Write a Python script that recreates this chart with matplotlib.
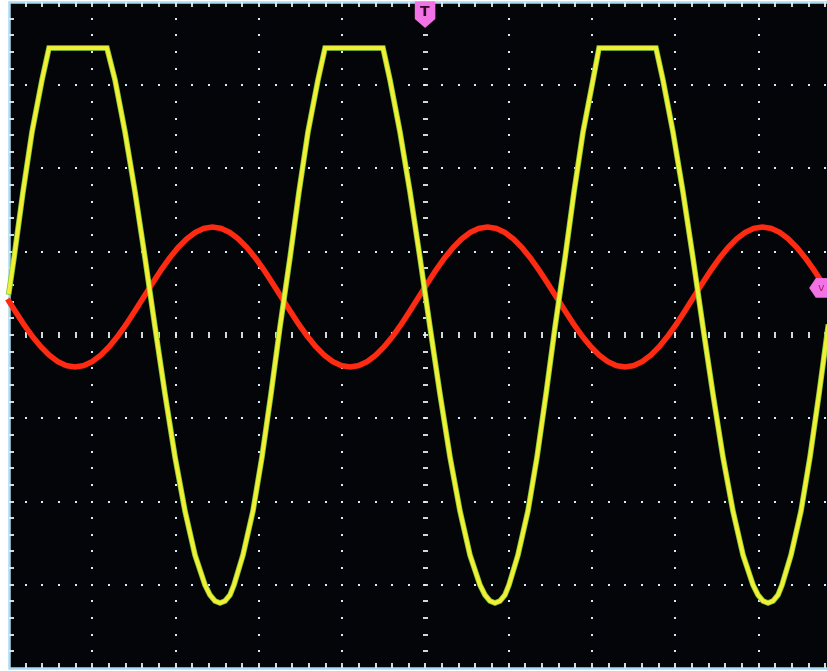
import numpy as np
import matplotlib.pyplot as plt
from matplotlib.patches import Rectangle, Polygon
from matplotlib.collections import LineCollection

# Trace samples in screen divisions (10 div across, 8 div high, 0 = centre line)
# CH1 - yellow, clipped at the top
ch1_t = [0.000, 0.060, 0.168, 0.276, 0.396, 0.480,
         1.176, 1.273, 1.393, 1.513, 1.633, 1.753, 1.873, 1.993, 2.113, 2.233,
         2.353, 2.413, 2.473, 2.533, 2.593, 2.653, 2.701,
         2.809, 2.929, 3.037, 3.145, 3.253, 3.373, 3.481, 3.589, 3.709, 3.794,
         4.490, 4.574, 4.694, 4.814, 4.934, 5.054, 5.174, 5.294, 5.414, 5.534,
         5.654, 5.714, 5.774, 5.834, 5.894, 5.954, 6.002,
         6.110, 6.230, 6.339, 6.447, 6.555, 6.675, 6.783, 6.891, 7.011, 7.083,
         7.767, 7.851, 7.971, 8.091, 8.211, 8.331, 8.451, 8.571, 8.691, 8.812,
         8.932, 8.992, 9.052, 9.112, 9.172, 9.232, 9.280,
         9.388, 9.508, 9.616, 9.724, 9.832, 9.952]
ch1_v = [0.517, 0.925, 1.718, 2.438, 3.063, 3.447,
         3.447, 3.063, 2.438, 1.718, 0.925, 0.096, -0.709, -1.465, -2.114, -2.643,
         -3.003, -3.123, -3.195, -3.219, -3.195, -3.123, -3.003,
         -2.643, -2.114, -1.465, -0.709, 0.096, 0.925, 1.718, 2.438, 3.063, 3.447,
         3.447, 3.063, 2.438, 1.718, 0.925, 0.096, -0.709, -1.465, -2.114, -2.643,
         -3.003, -3.123, -3.195, -3.219, -3.195, -3.123, -3.003,
         -2.643, -2.114, -1.465, -0.709, 0.096, 0.925, 1.718, 2.438, 3.063, 3.447,
         3.447, 3.063, 2.438, 1.718, 0.925, 0.096, -0.709, -1.465, -2.114, -2.643,
         -3.003, -3.123, -3.195, -3.219, -3.195, -3.123, -3.003,
         -2.643, -2.114, -1.465, -0.709, 0.096, 0.925]

# CH2 - red
ch2_t = [0.000, 0.070, 0.173, 0.276, 0.380, 0.483, 0.586, 0.689,
         0.792, 0.895, 0.999, 1.102, 1.205, 1.308, 1.411, 1.514,
         1.618, 1.721, 1.824, 1.927, 2.030, 2.134, 2.237, 2.340,
         2.443, 2.546, 2.649, 2.752, 2.856, 2.959, 3.062, 3.165,
         3.268, 3.372, 3.475, 3.578, 3.681, 3.784, 3.887, 3.991,
         4.094, 4.197, 4.300, 4.403, 4.506, 4.610, 4.713, 4.816,
         4.919, 5.022, 5.125, 5.228, 5.332, 5.435, 5.538, 5.641,
         5.744, 5.848, 5.951, 6.054, 6.157, 6.260, 6.363, 6.467,
         6.570, 6.673, 6.776, 6.879, 6.982, 7.085, 7.189, 7.292,
         7.395, 7.498, 7.601, 7.705, 7.808, 7.911, 8.014, 8.117,
         8.220, 8.323, 8.427, 8.530, 8.633, 8.736, 8.839, 8.942,
         9.046, 9.149, 9.252, 9.355, 9.458, 9.561, 9.664, 9.768,
         9.871]
ch2_v = [0.404, 0.293, 0.134, -0.011, -0.138, -0.242, -0.320, -0.368,
         -0.384, -0.368, -0.320, -0.242, -0.138, -0.011, 0.134, 0.293,
         0.457, 0.620, 0.779, 0.924, 1.051, 1.155, 1.233, 1.281,
         1.297, 1.281, 1.233, 1.155, 1.051, 0.924, 0.779, 0.620,
         0.457, 0.293, 0.134, -0.011, -0.138, -0.242, -0.320, -0.368,
         -0.384, -0.368, -0.320, -0.242, -0.138, -0.011, 0.134, 0.293,
         0.457, 0.620, 0.779, 0.924, 1.051, 1.155, 1.233, 1.281,
         1.297, 1.281, 1.233, 1.155, 1.051, 0.924, 0.779, 0.620,
         0.457, 0.293, 0.134, -0.011, -0.138, -0.242, -0.320, -0.368,
         -0.384, -0.368, -0.320, -0.242, -0.138, -0.011, 0.134, 0.293,
         0.457, 0.620, 0.779, 0.924, 1.051, 1.155, 1.233, 1.281,
         1.297, 1.281, 1.233, 1.155, 1.051, 0.924, 0.779, 0.620,
         0.457]

ndx, ndy = 10, 8
sub = 0.2
tick = 0.065

fig = plt.figure(figsize=(8.28, 6.71), dpi=100)
fig.patch.set_facecolor('white')
ax = fig.add_axes([0, 0, 1, 1])
ax.set_xlim(-0.108, 9.832)
ax.set_ylim(-4.036, 4.024)
ax.axis('off')

# screen area
ax.add_patch(Rectangle((0, -ndy / 2), ndx, ndy, facecolor='#040508',
                       edgecolor='#a9dcf2', lw=1.8, zorder=0))

dot_col = '#d6eaff'
sx = np.arange(1, int(ndx / sub)) * sub
sy = np.arange(1, int(ndy / sub)) * sub - ndy / 2

# dotted graticule
for gx in range(1, ndx):
    if gx == ndx // 2:
        continue
    ax.plot(np.full_like(sy, gx), sy, ls='none', marker='s', ms=1.8,
            mew=0, color=dot_col, zorder=1)
for gy in range(-ndy // 2 + 1, ndy // 2):
    if gy == 0:
        continue
    ax.plot(sx, np.full_like(sx, gy), ls='none', marker='s', ms=1.8,
            mew=0, color=dot_col, zorder=1)

# centre cross and border ticks
segs = []
for x in sx:
    segs.append([(x, -tick / 2), (x, tick / 2)])
    segs.append([(x, ndy / 2), (x, ndy / 2 - tick)])
    segs.append([(x, -ndy / 2), (x, -ndy / 2 + tick)])
for y in sy:
    segs.append([(ndx / 2 - tick / 2, y), (ndx / 2 + tick / 2, y)])
    segs.append([(0, y), (tick, y)])
ax.add_collection(LineCollection(segs, colors='#e4f0f4', linewidths=1.3, zorder=1))

# traces
ax.plot(ch2_t, ch2_v, color='#ff2a12', lw=4.0, solid_joinstyle='round', zorder=3)
ax.plot(ch1_t, ch1_v, color='#86c83a', lw=4.0, solid_joinstyle='miter', zorder=4)
ax.plot(ch1_t, ch1_v, color='#f2f034', lw=2.8, solid_joinstyle='miter', zorder=5)

# trigger position marker
ax.add_patch(Polygon([(4.88, 4.0), (5.11, 4.0), (5.11, 3.80), (4.995, 3.70), (4.88, 3.80)],
                     closed=True, facecolor='#f273e6', edgecolor='#f273e6', zorder=6))
ax.text(4.995, 3.875, 'T', ha='center', va='center', fontsize=10, fontweight='bold',
        color='#2a0a24', zorder=7)

# trigger level marker
ax.add_patch(Polygon([(9.616, 0.565), (9.69, 0.675), (9.86, 0.675), (9.86, 0.456), (9.69, 0.456)],
                     closed=True, facecolor='#f273e6', edgecolor='#f273e6', zorder=6))
ax.text(9.75, 0.56, 'v', ha='center', va='center', fontsize=8,
        color='#b0206a', zorder=7)

fig.savefig('out.png', dpi=100, facecolor=fig.get_facecolor())
